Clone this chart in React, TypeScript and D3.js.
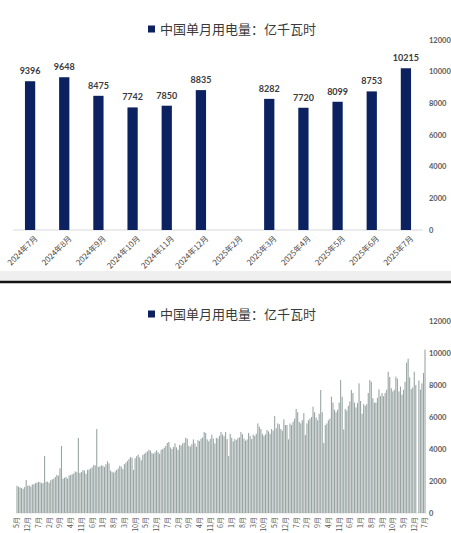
import * as d3 from "d3";

// top chart: last 12 reported months
const topMonths = [
  "2024年7月", "2024年8月", "2024年9月", "2024年10月", "2024年11月", "2024年12月",
  "2025年2月", "2025年3月", "2025年4月", "2025年5月", "2025年6月", "2025年7月",
];
const topValues: (number | null)[] = [9396, 9648, 8475, 7742, 7850, 8835, null, 8282, 7720, 8099, 8753, 10215];

const yTicks = [0, 2000, 4000, 6000, 8000, 10000, 12000];
const legendLabel = "中国单月用电量：亿千瓦时";

// bottom chart: monthly history (亿千瓦时), 2003 starts in May
const y2003 = [1700, 1640, 1590, 1560, 1510, 1620, 2060, 1700];
const y2004 = [1720, 1650, 1780, 1800, 1870, 1900, 1950, 1930, 1860, 1880, 3560, 1950];
const y2005 = [1960, 1880, 2050, 2100, 2150, 2250, 2380, 2330, 2800, 4190, 2150, 2200];
const y2006 = [2250, 2150, 2350, 2380, 2420, 2480, 2600, 2550, 4690, 2500, 2560, 2680];
const y2007 = [2650, 2450, 2700, 2720, 2780, 2850, 3000, 2980, 5250, 2880, 2920, 2980];
const y2008 = [2950, 2880, 3050, 3230, 3100, 2650, 2580, 2520, 2600, 2700, 2780, 2950];
const y2009 = [2900, 2750, 3050, 3150, 3250, 3380, 3500, 3450, 2700, 3420, 3550, 3650];
const y2010 = [3480, 3300, 3620, 3700, 3780, 3850, 3950, 3900, 3750, 3700, 3800, 3920];
const y2011 = [3800, 3700, 3950, 4000, 4080, 4200, 4380, 4440, 4100, 4000, 4120, 4350];
const y2012 = [4100, 3950, 4250, 4220, 4350, 4400, 4700, 4650, 4200, 4150, 4300, 4600];
const y2013 = [4350, 4150, 4550, 4500, 4650, 4720, 5070, 5000, 4600, 4480, 4620, 4900];
const y2014 = [4650, 4350, 4700, 4650, 4820, 5060, 4900, 4800, 5060, 4620, 3560, 4950];
const y2015 = [4700, 4480, 4620, 4560, 4680, 4720, 5060, 4920, 4650, 4520, 4600, 5000];
const y2016 = [4820, 4620, 4900, 4820, 4950, 5600, 5400, 5250, 4950, 4820, 4920, 5200];
const y2017 = [5100, 4950, 5250, 5150, 6060, 5300, 5600, 5550, 5250, 5150, 5850, 5500];
const y2018 = [5500, 4600, 5600, 5500, 5700, 5900, 6500, 6300, 5700, 5600, 5800, 6250];
const y2019 = [4870, 5600, 5800, 5900, 6000, 6640, 6300, 5970, 5800, 6200, 7690, 6300];
const y2020 = [4380, 5500, 5600, 5800, 5900, 7270, 6900, 6450, 6300, 6450, 6900, 8310];
const y2021 = [7270, 5230, 6500, 6400, 6700, 6980, 7690, 7500, 6900, 6600, 6870, 8100];
const y2022 = [7000, 6200, 6800, 6700, 6800, 7500, 8310, 8200, 7170, 6900, 6900, 7200];
const y2023 = [7730, 7300, 7500, 7300, 7500, 7700, 8830, 8500, 7800, 7600, 7700, 8520];
const y2024 = [8400, 7600, 7900, 7400, 7700, 8200, 9396, 9648, 8475, 7742, 7850, 8835];
const y2025: (number | null)[] = [8000, null, 8282, 7720, 8099, 8753, 10215];

const history: [number, number, (number | null)[]][] = [
  [2003, 5, y2003], [2004, 1, y2004], [2005, 1, y2005], [2006, 1, y2006],
  [2007, 1, y2007], [2008, 1, y2008], [2009, 1, y2009], [2010, 1, y2010],
  [2011, 1, y2011], [2012, 1, y2012], [2013, 1, y2013], [2014, 1, y2014],
  [2015, 1, y2015], [2016, 1, y2016], [2017, 1, y2017], [2018, 1, y2018],
  [2019, 1, y2019], [2020, 1, y2020], [2021, 1, y2021], [2022, 1, y2022],
  [2023, 1, y2023], [2024, 1, y2024], [2025, 1, y2025],
];

const W = 451;
const H = 533;
const NAVY = "#0b2160";
const CJK = "'Noto Sans CJK SC', 'Noto Sans', sans-serif";
const NUM = "Lato, 'Open Sans', sans-serif";

interface MonthPoint {
  key: string;
  month: string;
  value: number | null;
}

const historyPoints: MonthPoint[] = history.flatMap(([year, start, vals]) =>
  vals.map((v, i) => ({ key: `${year}-${start + i}`, month: `${start + i}月`, value: v }))
);

function Legend({ y }: { y: number }) {
  return (
    <g>
      <rect x={148} y={y - 3.5} width={7} height={7} fill={NAVY} />
      <text x={160} y={y} dy="0.35em" fontFamily={CJK} fontSize={13} fill="#3a3a3a">
        {legendLabel}
      </text>
    </g>
  );
}

function YAxis({ scale }: { scale: d3.ScaleLinear<number, number> }) {
  return (
    <g>
      {yTicks.map((t) => (
        <text key={t} x={429} y={scale(t)} dy="0.35em" fontFamily={NUM} fontWeight={700}
          fontSize={7.5} fill="#5a5a5a">
          {t}
        </text>
      ))}
    </g>
  );
}

export default function App() {
  // top chart scales
  const xTop = d3.scaleBand<string>().domain(topMonths).range([13, 423]).paddingInner(0.7).paddingOuter(0.35);
  const yTop = d3.scaleLinear().domain([0, 12000]).range([230, 40]);

  // bottom chart scales
  const xBot = d3.scaleBand<string>().domain(historyPoints.map((d) => d.key)).range([16, 426]).padding(0.3);
  const yBot = d3.scaleLinear().domain([0, 12000]).range([513, 321]);

  return (
    <svg width={W} height={H} style={{ position: "absolute", left: 0, top: 0, background: "#fff" }}>
      {/* ---- top chart ---- */}
      <Legend y={29} />
      <YAxis scale={yTop} />
      <line x1={13} x2={423} y1={yTop(0)} y2={yTop(0)} stroke="#d9d9d9" strokeWidth={1} />
      {topMonths.map((m, i) => {
        const v = topValues[i];
        const x = xTop(m)!;
        const cx = x + xTop.bandwidth() / 2;
        return (
          <g key={m}>
            {v != null && (
              <>
                <rect x={x} y={yTop(v)} width={xTop.bandwidth()} height={yTop(0) - yTop(v)} fill={NAVY} />
                <text x={cx} y={yTop(v) - 7} textAnchor="middle" fontFamily={NUM} fontWeight={700}
                  fontSize={9} fill="#3a3a3a">
                  {v}
                </text>
              </>
            )}
            <text transform={`translate(${cx + 6},${237}) rotate(-45)`} textAnchor="end" dy="0.35em"
              fontFamily={CJK} fontSize={8} fill="#4a4a4a">
              {m}
            </text>
          </g>
        );
      })}

      {/* separator */}
      <rect x={0} y={271} width={W} height={10} fill="#efefef" />
      <line x1={0} x2={W} y1={282} y2={282} stroke="#141414" strokeWidth={2.5} />

      {/* ---- bottom chart ---- */}
      <Legend y={314} />
      <YAxis scale={yBot} />
      <line x1={16} x2={426} y1={yBot(0)} y2={yBot(0)} stroke="#e3e3e3" strokeWidth={1} />
      {historyPoints.map((d) =>
        d.value == null ? null : (
          <rect key={d.key} x={xBot(d.key)!} y={yBot(d.value)} width={xBot.bandwidth()}
            height={yBot(0) - yBot(d.value)} fill="#97a4a2" />
        )
      )}
      {historyPoints.map((d, i) => {
        if (i % 7 !== 0) return null;
        const cx = xBot(d.key)! + xBot.bandwidth() / 2;
        return (
          <text key={`l-${d.key}`} transform={`translate(${cx},${517}) rotate(-90)`} textAnchor="end"
            dy="0.35em" fontFamily={CJK} fontSize={7} fill="#555">
            {d.month}
          </text>
        );
      })}
    </svg>
  );
}
